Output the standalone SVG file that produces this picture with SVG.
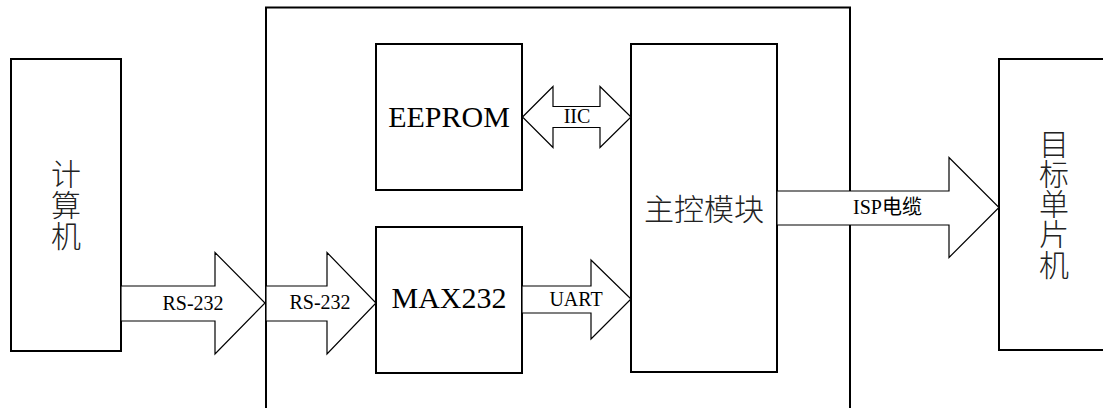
<svg xmlns="http://www.w3.org/2000/svg" width="1103" height="408" viewBox="0 0 1103 408">
<style>
.box{fill:#fff;stroke:#000;stroke-width:2}
.frame{fill:none;stroke:#000;stroke-width:2}
.arrow{fill:#fff;stroke:#000;stroke-width:1.2;stroke-linejoin:miter}
.en{font-family:"Liberation Serif","Times New Roman",serif;fill:#000}
.cn{font-family:"Liberation Serif","Noto Sans CJK SC",sans-serif;fill:#222;font-size:30px;font-weight:300}
.lbl{font-family:"Liberation Serif","Noto Sans CJK SC",serif;font-size:20px;fill:#000}
</style>
<rect x="266" y="7.5" width="584" height="420" class="frame"/>
<g id="computer">
<rect x="11" y="59" width="110" height="292" class="box"/>
<text class="cn" x="66" y="185" text-anchor="middle">计</text>
<text class="cn" x="66" y="216" text-anchor="middle">算</text>
<text class="cn" x="66" y="247" text-anchor="middle">机</text>
</g>
<g id="eeprom">
<rect x="376" y="44" width="146" height="146" class="box"/>
<text class="en" x="449" y="127" font-size="30" text-anchor="middle">EEPROM</text>
</g>
<g id="max232">
<rect x="376" y="227" width="146" height="146" class="box"/>
<text class="en" x="449" y="308" font-size="30" text-anchor="middle">MAX232</text>
</g>
<g id="main">
<rect x="631" y="44" width="146" height="328" class="box"/>
<text class="cn" x="704" y="220" text-anchor="middle">主控模块</text>
</g>
<g id="target">
<rect x="999" y="59" width="120" height="291" class="box"/>
<text class="cn" x="1054" y="155" text-anchor="middle">目</text>
<text class="cn" x="1054" y="185" text-anchor="middle">标</text>
<text class="cn" x="1054" y="215" text-anchor="middle">单</text>
<text class="cn" x="1054" y="245" text-anchor="middle">片</text>
<text class="cn" x="1054" y="276" text-anchor="middle">机</text>
</g>
<g id="connectors">
<polygon class="arrow" points="121,286 215,286 215,252.5 265,303 215,354 215,321 121,321"/>
<text class="lbl" x="193" y="310" text-anchor="middle">RS-232</text>
<polygon class="arrow" points="266,286 327,286 327,252.5 376,303 327,354 327,321 266,321"/>
<text class="lbl" x="320" y="309" text-anchor="middle">RS-232</text>
<polygon class="arrow" points="522,286 591,286 591,260 631,299 591,339 591,313 522,313"/>
<text class="lbl" x="576" y="306" text-anchor="middle">UART</text>
<polygon class="arrow" points="522.5,117 553,86.5 553,106.5 600,106.5 600,86.5 631,117 600,147.5 600,127.5 553,127.5 553,147.5"/>
<text class="lbl" x="577" y="123" text-anchor="middle">IIC</text>
<polygon class="arrow" points="777,191 949,191 949,157.5 999,207.5 949,257.5 949,225 777,225"/>
<text class="lbl" x="853" y="214">ISP电缆</text>
</g>
</svg>
